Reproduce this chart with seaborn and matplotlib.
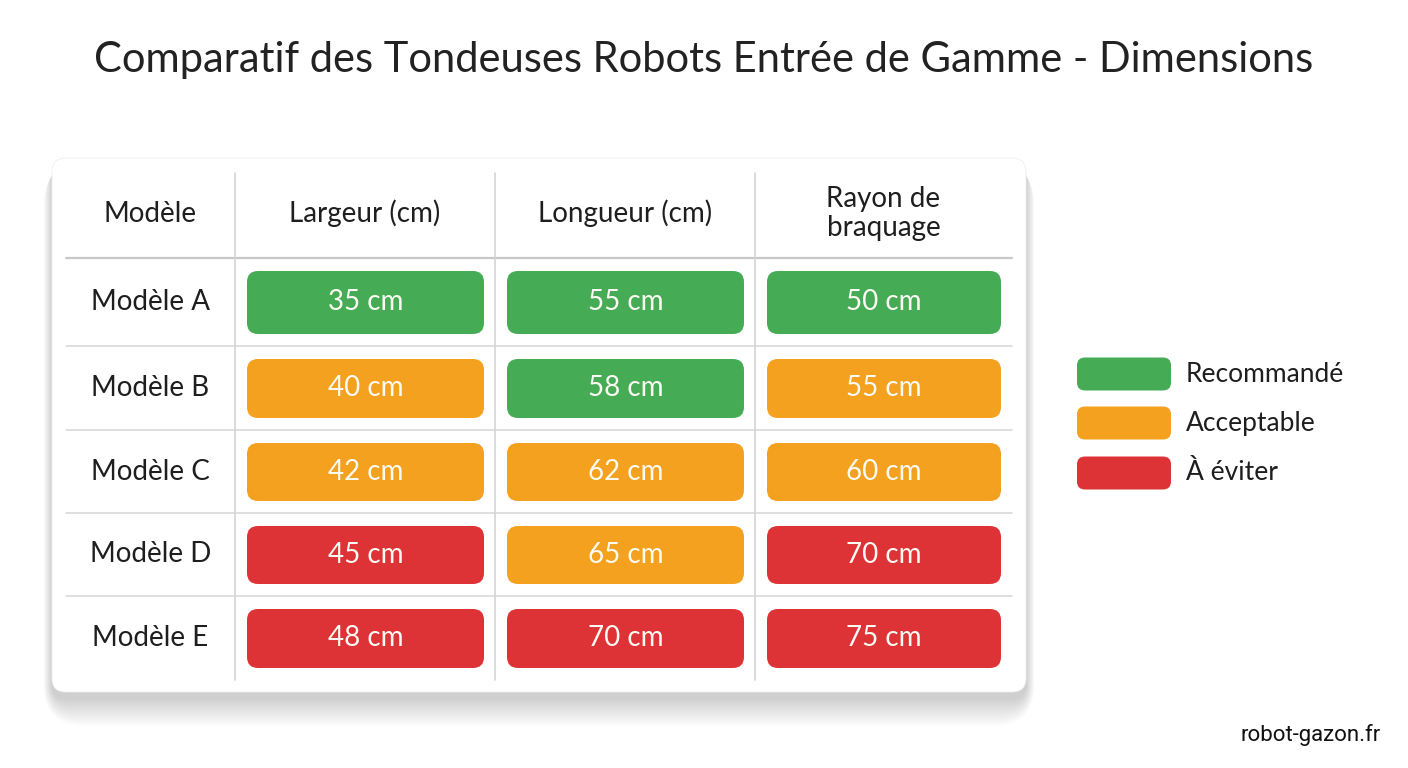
import seaborn as sns
import matplotlib.pyplot as plt
from matplotlib.patches import FancyBboxPatch

# data
models = ["Modèle A", "Modèle B", "Modèle C", "Modèle D", "Modèle E"]
columns = ["Largeur (cm)", "Longueur (cm)", "Rayon de\nbraquage"]
largeur = [35, 40, 42, 45, 48]
longueur = [55, 58, 62, 65, 70]
rayon = [50, 55, 60, 70, 75]
# 0 = recommandé, 1 = acceptable, 2 = à éviter
largeur_status = [0, 1, 1, 2, 2]
longueur_status = [0, 0, 1, 1, 2]
rayon_status = [0, 1, 1, 2, 2]
legend_labels = ["Recommandé", "Acceptable", "À éviter"]

sns.set_theme(style="white")
plt.rcParams['font.family'] = ['Lato', 'DejaVu Sans']
palette = sns.color_palette(["#46ab55", "#f4a11f", "#de3336"])

fig = plt.figure(figsize=(14.08, 7.68), dpi=100)
ax = fig.add_axes([0, 0, 1, 1])
ax.set_xlim(0, 1408)
ax.set_ylim(768, 0)
ax.axis("off")

# title
ax.text(704, 60, "Comparatif des Tondeuses Robots Entrée de Gamme - Dimensions",
        ha="center", va="center", fontsize=30, color="#222222")

# card with soft shadow (mostly below)
card_x0, card_y0, card_x1, card_y1 = 52, 158, 1026, 692
for i in range(24):
    grow = 1 + i * 1.2
    sh = FancyBboxPatch((card_x0 - grow * 0.3, card_y0 + 6),
                        card_x1 - card_x0 + grow * 0.6, card_y1 - card_y0 + grow * 1.0,
                        boxstyle="round,pad=0,rounding_size=%d" % (14 + grow),
                        facecolor="#000000", edgecolor="none", alpha=0.006, zorder=1)
    ax.add_patch(sh)
card = FancyBboxPatch((card_x0, card_y0), card_x1 - card_x0, card_y1 - card_y0,
                      boxstyle="round,pad=0,rounding_size=14",
                      facecolor="white", edgecolor="#f0f0f0", lw=0.6, zorder=2)
ax.add_patch(card)

# grid geometry
col_edges = [66, 235, 495, 755, 1012]
header_top, header_bot = 173, 258
row_edges = [258, 346, 430, 513, 596, 680]

# lines
ax.plot([col_edges[0], col_edges[-1]], [header_bot, header_bot], color="#c8c8c8", lw=1.6, zorder=3)
for y in row_edges[1:-1]:
    ax.plot([col_edges[0], col_edges[-1]], [y, y], color="#d9d9d9", lw=1.2, zorder=3)
for x in col_edges[1:-1]:
    ax.plot([x, x], [header_top, row_edges[-1]], color="#d4d4d4", lw=1.2, zorder=3)

# header
ax.text((col_edges[0] + col_edges[1]) / 2, (header_top + header_bot) / 2 - 2, "Modèle",
        ha="center", va="center", fontsize=20, color="#1e1e1e", zorder=4)
for j, name in enumerate(columns):
    ax.text((col_edges[j + 1] + col_edges[j + 2]) / 2, (header_top + header_bot) / 2 - 2, name,
            ha="center", va="center", fontsize=20, color="#1e1e1e", linespacing=1.1, zorder=4)

values = [largeur, longueur, rayon]
statuses = [largeur_status, longueur_status, rayon_status]
for i, model in enumerate(models):
    yc = (row_edges[i] + row_edges[i + 1]) / 2
    ax.text((col_edges[0] + col_edges[1]) / 2, yc, model, ha="center", va="center",
            fontsize=20, color="#1e1e1e", zorder=4)
    for j in range(3):
        x0 = col_edges[j + 1] + 12
        x1 = col_edges[j + 2] - 11
        y0 = row_edges[i] + 13
        y1 = row_edges[i + 1] - 12
        pill = FancyBboxPatch((x0, y0), x1 - x0, y1 - y0,
                              boxstyle="round,pad=0,rounding_size=11",
                              facecolor=palette[statuses[j][i]], edgecolor="none", zorder=4)
        ax.add_patch(pill)
        ax.text((x0 + x1) / 2, (y0 + y1) / 2, f"{values[j][i]} cm", ha="center", va="center",
                fontsize=20, color="#fbfbf3", zorder=5)

# legend
leg_y = [374, 423, 473]
for k, lab in enumerate(legend_labels):
    sw = FancyBboxPatch((1077, leg_y[k] - 16.5), 94, 33,
                        boxstyle="round,pad=0,rounding_size=8",
                        facecolor=palette[k], edgecolor="none", zorder=4)
    ax.add_patch(sw)
    ax.text(1186, leg_y[k], lab, ha="left", va="center", fontsize=19, color="#1e1e1e")

# footer
ax.text(1381, 735, "robot-gazon.fr", ha="right", va="center", fontsize=16,
        color="#111111", family=["Roboto", "DejaVu Sans"])

fig.savefig("out.png", dpi=100, facecolor="white")
